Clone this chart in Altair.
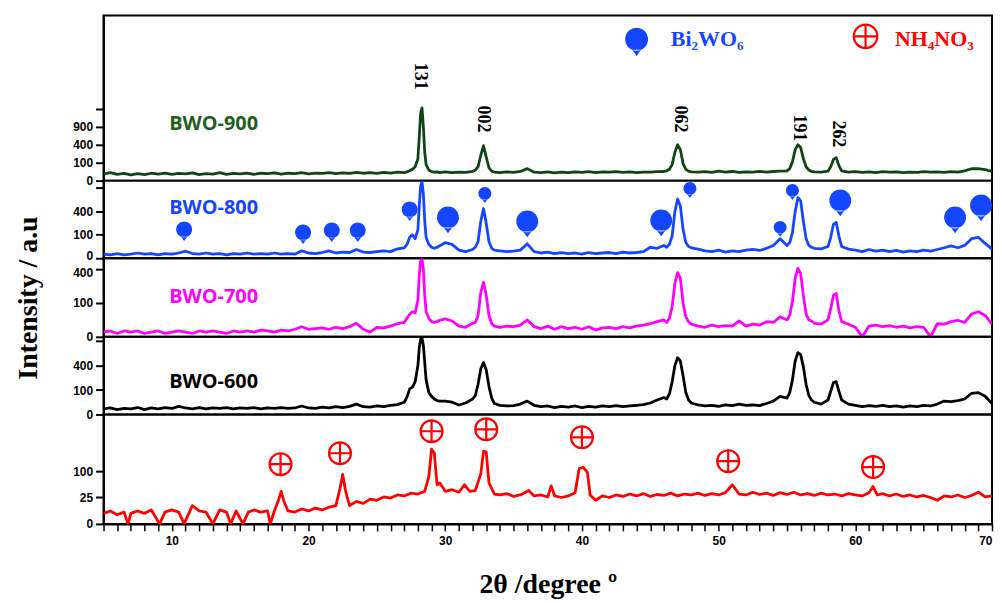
import altair as alt
import pandas as pd

# ---------------- data ----------------
GRID = [
    5.0, 5.5, 6.0, 6.5, 7.0, 7.5, 8.0, 8.5, 9.0, 9.5,
    10.0, 10.5, 11.0, 11.5, 12.0, 12.5, 13.0, 13.5, 14.0, 14.5,
    15.0, 15.5, 16.0, 16.5, 17.0, 17.5, 18.0, 18.5, 19.0, 19.5,
    20.0, 20.5, 21.0, 21.5, 22.0, 22.5, 23.0, 23.5, 24.0, 24.5,
    25.0, 25.5, 26.0, 26.5,
    27.0, 27.2, 27.4, 27.6, 27.8, 28.0, 28.1, 28.2, 28.3, 28.4, 28.5, 28.6, 28.8, 29.0, 29.2, 29.4, 29.6,
    30.0, 30.5, 31.0, 31.5,
    32.0, 32.2, 32.4, 32.6, 32.8, 33.0, 33.2, 33.4, 33.6,
    34.0, 34.5, 35.0, 35.5, 36.0, 36.5, 37.0, 37.5, 38.0, 38.5, 39.0, 39.5, 40.0, 40.5, 41.0, 41.5, 42.0, 42.5, 43.0, 43.5, 44.0, 44.5, 45.0, 45.5,
    46.0, 46.2, 46.4, 46.6, 46.8, 47.0, 47.2, 47.4, 47.6, 47.8, 48.0,
    48.5, 49.0, 49.5, 50.0, 50.5, 51.0, 51.5, 52.0, 52.5, 53.0, 53.5, 54.0, 54.5,
    55.0, 55.2, 55.4, 55.6, 55.8, 56.0, 56.2, 56.4, 56.6, 56.8, 57.0,
    57.5, 58.0,
    58.2, 58.4, 58.6, 58.8, 59.0,
    59.5, 60.0, 60.5, 61.0, 61.5, 62.0, 62.5, 63.0, 63.5, 64.0, 64.5, 65.0, 65.5, 66.0, 66.5, 67.0, 67.5, 68.0, 68.5, 69.0, 69.5, 70.0,
]

BWO900 = [
    14, 20, 12, 16, 10, 15, 11, 17, 13, 18,
    12, 16, 14, 19, 11, 15, 13, 20, 12, 16,
    14, 18, 12, 17, 15, 19, 13, 17, 15, 20,
    14, 18, 16, 20, 15, 19, 16, 21, 17, 20,
    16, 21, 18, 22,
    20, 24, 30, 40, 60, 150, 600, 1400, 1650, 900, 250, 80, 35, 25, 22, 24, 20,
    24, 20, 23, 21,
    26, 35, 60, 200, 380, 170, 50, 28, 22,
    20, 24, 21, 26, 45, 22, 20, 24, 19, 23, 20, 24, 21, 25, 20, 24, 22, 25, 21, 24, 20, 23, 22, 25,
    26, 30, 40, 80, 250, 400, 300, 90, 40, 28, 24,
    22, 25, 21, 28, 22, 26, 21, 24, 22, 27, 23, 26, 28,
    30, 45, 110, 300, 400, 340, 150, 60, 35, 26, 24,
    22, 28,
    60, 140, 165, 70, 30,
    22, 25, 21, 24, 20, 25, 22, 24, 20, 23, 21, 25, 22, 24, 21, 25, 23, 30, 44, 45, 38, 26,
]

BWO800 = [
    3, 2, 4, 2, 3, 5, 3, 4, 2, 4,
    3, 5, 9, 4, 3, 5, 3, 4, 2, 4,
    3, 5, 3, 4, 3, 5, 3, 4, 3, 10,
    5, 4, 6, 10, 5, 7, 6, 14, 7, 6,
    8, 10, 8, 16,
    20, 35, 80, 100, 70, 150, 500, 950, 1080, 750, 250, 80, 35, 22, 18, 22, 28,
    45, 35, 12, 8,
    14, 22, 50, 250, 450, 220, 50, 18, 12,
    10, 8, 9, 12, 38, 8, 5, 7, 4, 6, 4, 5, 3, 6, 4, 5, 6, 4, 7, 5, 6, 8, 22, 18,
    30, 22, 35, 90, 400, 640, 500, 150, 45, 25, 20,
    15, 10, 8, 12, 7, 10, 8, 12, 14, 11, 18, 30, 70,
    30, 45, 120, 400, 670, 600, 250, 70, 30, 22, 18,
    16, 25,
    80, 210, 235, 90, 25,
    15, 12, 8, 14, 9, 12, 8, 11, 7, 10, 8, 12, 9, 14, 20, 28, 20, 30, 70, 80, 40, 15,
]

BWO700 = [
    2, 3, 1, 3, 2, 3, 1, 2, 3, 1,
    2, 3, 2, 1, 3, 2, 3, 2, 1, 3,
    2, 3, 2, 4, 3, 2, 4, 3, 5, 9,
    5, 6, 7, 5, 8, 6, 9, 16, 5, 2,
    8, 7, 10, 15,
    18, 30, 45, 55, 50, 120, 330, 500, 530, 400, 150, 55, 30, 20, 18, 20, 24,
    28, 22, 10, 8,
    16, 18, 40, 170, 260, 150, 40, 15, 10,
    8, 10, 9, 12, 25, 9, 6, 10, 5, 9, 6, 8, 5, 9, 4, 7, 8, 6, 9, 7, 10, 12, 15, 20,
    25, 18, 30, 80, 250, 360, 300, 100, 35, 20, 14,
    10, 8, 12, 9, 11, 10, 22, 10, 14, 12, 20, 18, 35,
    25, 40, 110, 300, 410, 350, 150, 45, 25, 22, 16,
    14, 25,
    70, 150, 165, 60, 20,
    14, 8, 0, 10, 12, 9, 11, 8, 10, 7, 9, 8, 0, 15, 14, 20, 24, 18, 45, 55, 40, 14,
]

BWO600 = [
    5, 7, 4, 6, 5, 8, 4, 7, 5, 8,
    6, 11, 7, 5, 8, 5, 7, 6, 8, 5,
    7, 6, 8, 5, 7, 6, 8, 6, 7, 12,
    7, 6, 9, 7, 10, 8, 11, 18, 10, 9,
    12, 10, 14, 16,
    25, 50, 110, 125, 180, 400, 750, 950, 980, 800, 450, 200, 80, 55, 40, 32, 30,
    30, 25, 15, 22,
    40, 60, 150, 350, 450, 330, 130, 45, 20,
    14, 12, 13, 18, 30, 14, 10, 12, 8, 11, 9, 12, 8, 11, 9, 12, 10, 13, 10, 12, 14, 16, 22, 35,
    48, 40, 70, 180, 400, 540, 480, 250, 80, 35, 22,
    15, 12, 14, 11, 15, 13, 18, 14, 15, 13, 20, 30, 55,
    45, 80, 200, 480, 640, 600, 380, 150, 60, 35, 25,
    18, 35,
    90, 170, 180, 90, 35,
    18, 14, 10, 13, 11, 14, 10, 12, 9, 12, 10, 14, 12, 18, 30, 28, 32, 40, 75, 80, 55, 20,
]

NH_X = [
    5.0, 5.5, 6.0, 6.5, 6.8, 7.0, 7.5, 8.0, 8.5, 9.1,
    9.5, 10.0, 10.5, 10.9, 11.5, 12.0, 12.5, 13.0, 13.5, 14.0,
    14.3, 14.7, 15.2, 15.6, 16.0, 16.5, 17.0, 17.2, 17.5, 17.8,
    18.0, 18.2, 18.5, 19.0, 19.5, 20.0, 20.5, 21.0, 21.5, 22.0,
    22.3, 22.5, 22.7, 23.0, 23.5, 24.0, 24.5, 25.0, 25.5, 26.0,
    26.5, 27.0, 27.5, 28.0, 28.5, 28.8, 29.0, 29.2, 29.4, 29.6,
    30.0, 30.5, 31.0, 31.4, 31.8, 32.2, 32.6, 32.8, 33.0, 33.2,
    33.6, 34.0, 34.5, 35.0, 35.5, 36.1, 36.5, 37.0, 37.5, 37.75,
    38.0, 38.5, 39.0, 39.5, 39.8, 40.1, 40.4, 40.6, 41.0, 41.5,
    42.0, 42.5, 43.0, 43.5, 44.0, 44.5, 45.0, 45.5, 46.0, 46.5,
    47.0, 47.5, 48.0, 48.5, 49.0, 49.5, 50.0, 50.5, 51.0, 51.5,
    52.0, 52.5, 53.0, 53.5, 54.0, 54.5, 55.0, 55.5, 56.0, 56.5,
    57.0, 57.5, 58.0, 58.5, 59.0, 59.5, 60.0, 60.5, 61.0, 61.3,
    61.6, 62.0, 62.5, 63.0, 63.5, 64.0, 64.5, 65.0, 65.5, 66.0,
    66.5, 67.0, 67.5, 68.0, 68.5, 69.0, 69.5, 70.0,
]
NH_Y = [
    4, 6, 3, 5, 0, 4, 6, 4, 7, 0,
    5, 7, 5, 0, 12, 6, 5, 0, 7, 5,
    0, 6, 0, 5, 7, 5, 6, 0, 6, 20,
    38, 18, 6, 5, 8, 6, 9, 7, 10, 12,
    45, 88, 40, 12, 18, 15, 22, 20, 26, 24,
    30, 28, 34, 32, 38, 80, 200, 180, 55, 60,
    38, 42, 36, 55, 38, 40, 90, 190, 185, 60,
    32, 30, 33, 27, 30, 40, 28, 30, 26, 52,
    28, 25, 28, 35, 110, 115, 95, 30, 20, 28,
    25, 30, 27, 32, 28, 33, 27, 31, 29, 34,
    28, 32, 30, 34, 29, 33, 30, 35, 55, 32,
    30, 36, 31, 34, 29, 35, 31, 36, 30, 33,
    29, 34, 30, 32, 28, 33, 30, 28, 35, 50,
    30, 33, 28, 32, 27, 30, 26, 29, 25, 20,
    28, 26, 30, 25, 29, 36, 26, 28,
]

# sample labels (name, x, y)
SAMPLE_NAMES = ["BWO-900", "BWO-800", "BWO-700", "BWO-600"]
SAMPLE_LABEL_X = [9.8, 9.8, 9.8, 9.8]
SAMPLE_LABEL_Y = [1003, 453, 138, 181]

# Miller indices on the BWO-900 pattern
HKL_TEXT = ["131", "002", "062", "191", "262"]
HKL_X = [28.14, 32.73, 47.14, 55.87, 58.71]
HKL_Y = [3400, 1185, 1185, 867, 681]

# Bi2WO6 markers on the BWO-800 pattern
BI_BIG_X = [30.2, 36.0, 45.8, 58.9, 67.3, 69.2]
BI_BIG_Y = [304, 248, 261, 609, 304, 509]
BI_MED_X = [10.9, 19.6, 21.7, 23.6, 27.4]
BI_MED_Y = [152, 122, 142, 142, 435]
BI_SMALL_X = [32.9, 47.9, 54.5, 55.4]
BI_SMALL_Y = [765, 887, 174, 837]

# NH4NO3 markers on the bottom pattern
NH_MARK_X = [17.95, 22.3, 29.0, 33.0, 40.0, 50.7, 61.3]
NH_MARK_Y = [128, 179, 308, 321, 269, 141, 116]

# legend (top panel)
LEGEND_TEXT = ["Bi₂WO₆", "NH₄NO₃"]
LEGEND_MARK_X = [44.0, 60.75]
LEGEND_MARK_Y = [6225, 6490]
LEGEND_TEXT_X = [46.5, 62.9]
LEGEND_TEXT_Y = [6225, 6225]

X_TICKS = list(range(5, 71))

# ---------------- styling ----------------
W = 893
GREEN_LINE = "#0f4414"
GREEN_TEXT = "#1f5f22"
BLUE = "#1446ff"
MAGENTA = "#ff00ff"
RED = "#ff0000"

BALLOON = ("M -1 0 A 1 1 0 1 0 1 0 A 1 1 0 1 0 -1 0 Z "
           "M -0.38 0.92 L 0.38 0.92 L 0 1.45 Z")
OPLUS = ("M -1 0 A 1 1 0 1 0 1 0 A 1 1 0 1 0 -1 0 "
         "M -1 0 L 1 0 M 0 -1 L 0 1")

xscale = alt.Scale(domain=[5, 70], nice=False, zero=False)


def yaxis(ticks, labeled, title=None, nudge=None):
    expr = " || ".join(f"datum.value == {v}" for v in labeled)
    kw = dict(values=ticks, tickCount=100,
              labelExpr=f"({expr}) ? datum.label : ''",
              tickSize=8, tickWidth=2, tickColor="black",
              domainWidth=2, domainColor="black",
              labelFont="Liberation Sans", labelFontSize=12,
              labelFontWeight="bold", labelColor="black", labelPadding=3,
              labelOverlap=False, grid=False)
    if nudge is not None:
        kw["labelOffset"] = {"condition": {"test": f"datum.value == {nudge[0]}",
                                           "value": nudge[1]}, "value": 0}
    if title:
        kw.update(title=title, titleFont="Liberation Serif", titleFontSize=28,
                  titleFontWeight="bold", titleColor="black", titlePadding=30)
    return alt.Axis(**kw)


def make_panel(xs, ys, color, height, ymax, ticks, labeled, extra, title=None,
               bottom=False, nudge=None):
    df = pd.DataFrame({"x": xs, "y": ys})
    if bottom:
        xax = alt.Axis(values=X_TICKS, tickCount=200, format="d",
                       labelExpr="datum.value % 10 == 0 ? datum.label : ''",
                       tickSize=7, tickWidth=1.5, tickColor="black",
                       domainWidth=2, domainColor="black",
                       labelFont="Liberation Sans", labelFontSize=12,
                       labelFontWeight="bold", labelColor="black",
                       labelFlush=True, labelOverlap=False, grid=False,
                       labelPadding=5,
                       title="2θ /degree º", titleFont="Liberation Serif",
                       titleFontSize=28, titleFontWeight="bold",
                       titleColor="black", titlePadding=24)
        xenc = alt.X("x:Q", scale=xscale, axis=xax)
    else:
        xenc = alt.X("x:Q", scale=xscale, axis=None)
    yenc = alt.Y("y:Q",
                 scale=alt.Scale(type="sqrt", domain=[0, ymax], nice=False, zero=True),
                 axis=yaxis(ticks, labeled, title, nudge), title=title if title else None)
    line = alt.Chart(df).mark_line(color=color, strokeWidth=2.8, strokeJoin="round",
                                   clip=True).encode(x=xenc, y=yenc)
    return alt.layer(line, *extra).properties(width=W, height=height)


def text_layer(xs, ys, texts, **mark):
    df = pd.DataFrame({"x": xs, "y": ys, "t": texts})
    return alt.Chart(df).mark_text(**mark).encode(x="x:Q", y="y:Q", text="t:N")


def point_layer(xs, ys, **mark):
    df = pd.DataFrame({"x": xs, "y": ys})
    return alt.Chart(df).mark_point(**mark).encode(x="x:Q", y="y:Q")


label_style = dict(font="Open Sans", fontSize=20, fontWeight="bold",
                   align="left", baseline="middle")

# panel 1: BWO-900
p1_extra = [
    text_layer([SAMPLE_LABEL_X[0]], [SAMPLE_LABEL_Y[0]], [SAMPLE_NAMES[0]],
               color=GREEN_TEXT, **label_style),
    text_layer(HKL_X, HKL_Y, HKL_TEXT, angle=90, font="Liberation Serif",
               fontSize=18, fontWeight="bold", color="black",
               align="center", baseline="middle"),
    point_layer([LEGEND_MARK_X[0]], [LEGEND_MARK_Y[0]], shape=BALLOON, size=530,
                filled=True, color=BLUE, opacity=1),
    point_layer([LEGEND_MARK_X[1]], [LEGEND_MARK_Y[1]], shape=OPLUS, size=560,
                filled=False, color=RED, strokeWidth=2.2, opacity=1),
    text_layer([LEGEND_TEXT_X[0]], [LEGEND_TEXT_Y[0]], [LEGEND_TEXT[0]],
               font="Liberation Serif", fontSize=22, fontWeight="bold",
               color=BLUE, align="left", baseline="middle"),
    text_layer([LEGEND_TEXT_X[1]], [LEGEND_TEXT_Y[1]], [LEGEND_TEXT[1]],
               font="Liberation Serif", fontSize=22, fontWeight="bold",
               color=RED, align="left", baseline="middle"),
]
p1 = make_panel(GRID, BWO900, GREEN_LINE, 166, 8500, [0, 100, 400, 900, 1600],
                [0, 100, 400, 900], p1_extra)

# panel 2: BWO-800
p2_extra = [
    text_layer([SAMPLE_LABEL_X[1]], [SAMPLE_LABEL_Y[1]], [SAMPLE_NAMES[1]],
               color=BLUE, **label_style),
    point_layer(BI_BIG_X, BI_BIG_Y, shape=BALLOON, size=484, filled=True,
                color=BLUE, opacity=1),
    point_layer(BI_MED_X, BI_MED_Y, shape=BALLOON, size=256, filled=True,
                color=BLUE, opacity=1),
    point_layer(BI_SMALL_X, BI_SMALL_Y, shape=BALLOON, size=169, filled=True,
                color=BLUE, opacity=1),
]
p2 = make_panel(GRID, BWO800, BLUE, 78, 1100, [0, 100, 400, 900], [0, 100, 400], p2_extra,
                nudge=(0, -3))

# panel 3: BWO-700
p3_extra = [
    text_layer([SAMPLE_LABEL_X[2]], [SAMPLE_LABEL_Y[2]], [SAMPLE_NAMES[2]],
               color=MAGENTA, **label_style),
]
p3 = make_panel(GRID, BWO700, MAGENTA, 79, 540, [0, 100, 400], [0, 100, 400], p3_extra,
                title="Intensity / a.u", nudge=(400, 3))

# panel 4: BWO-600
p4_extra = [
    text_layer([SAMPLE_LABEL_X[3]], [SAMPLE_LABEL_Y[3]], [SAMPLE_NAMES[3]],
               color="black", **label_style),
]
p4 = make_panel(GRID, BWO600, "black", 78, 1010, [0, 100, 400, 900], [0, 100, 400], p4_extra)

# panel 5: NH4NO3
p5_extra = [
    point_layer(NH_MARK_X, NH_MARK_Y, shape=OPLUS, size=484, filled=False,
                color=RED, strokeWidth=2.2, opacity=1),
]
p5 = make_panel(NH_X, NH_Y, RED, 110, 430, [0, 25, 100], [0, 25, 100], p5_extra, bottom=True)

chart = (
    alt.vconcat(p1, p2, p3, p4, p5, spacing=0, bounds="flush")
    .resolve_scale(y="independent")
    .configure_view(stroke="black", strokeWidth=2)
    .properties(padding={"left": 5, "top": 5, "right": 0, "bottom": 0},
                background="white")
)

chart.save("out.html", embed_options={"renderer": "svg", "actions": False})
